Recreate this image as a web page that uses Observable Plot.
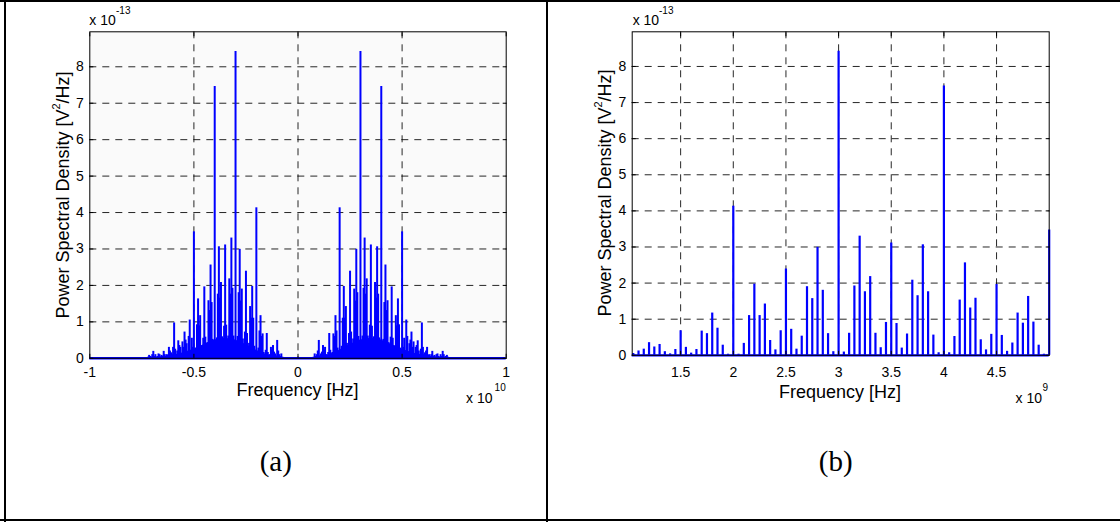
<!DOCTYPE html>
<html><head><meta charset="utf-8">
<script src="https://cdn.jsdelivr.net/npm/d3@7"></script>
<script src="https://cdn.jsdelivr.net/npm/@observablehq/plot@0.6"></script>
<style>
html,body{margin:0;padding:0;background:#fff;}
#root{position:relative;width:1120px;height:522px;overflow:hidden;font-family:"Liberation Sans",Arial,sans-serif;color:#000;}
.abs{position:absolute;white-space:nowrap;line-height:1;}
.c{transform:translate(-50%,-50%);}
.border{position:absolute;background:#000;}
.svgwrap{position:absolute;top:0;}
</style></head><body><div id="root"></div>
<script>
// Spectral line frequencies (GHz) and PSD values (x 1e-13 V^2/Hz)
const lineFreqGHz = [0.75,0.80,0.85,0.90,0.95,1.00,1.05,1.10,1.15,1.20,1.25,1.30,1.35,1.40,1.45,1.50,1.55,1.60,1.65,1.70,1.75,1.80,1.85,1.90,1.95,
  2.00,2.05,2.10,2.15,2.20,2.25,2.30,2.35,2.40,2.45,2.50,2.55,2.60,2.65,2.70,2.75,2.80,2.85,2.90,2.95,
  3.00,3.05,3.10,3.15,3.20,3.25,3.30,3.35,3.40,3.45,3.50,3.55,3.60,3.65,3.70,3.75,3.80,3.85,3.90,3.95,
  4.00,4.05,4.10,4.15,4.20,4.25,4.30,4.35,4.40,4.45,4.50,4.55,4.60,4.65,4.70,4.75,4.80,4.85,4.90,4.95,
  5.00,5.05,5.10,5.15,5.20,5.25,5.30,5.35,5.40,5.45,5.50,5.55,5.60,5.65,5.70,5.75,5.80,5.85,5.90,5.95,
  6.00,6.05,6.10,6.15,6.20,6.25,6.30,6.35,6.40,6.45,6.50,6.55,6.60,6.65,6.70,6.75,6.80,6.85,6.90,6.95,
  7.00,7.05,7.10,7.15,7.20];
const linePSD = [0.03,0.12,0.05,0.10,0.20,0.49,0.05,0.12,0.17,0.35,0.23,0.30,0.10,0.04,0.16,0.68,0.22,0.06,0.16,0.67,0.60,1.17,0.75,0.28,0.03,
  4.13,0.03,0.33,1.10,1.97,1.10,1.42,0.41,0.15,0.68,2.39,0.72,0.17,0.53,1.90,1.57,2.99,1.80,0.60,0.10,
  8.42,0.09,0.61,1.92,3.30,1.76,2.18,0.61,0.21,0.91,3.11,0.88,0.20,0.59,2.08,1.65,3.06,1.76,0.56,0.07,
  7.46,0.07,0.52,1.53,2.56,1.31,1.58,0.43,0.15,0.58,1.96,0.55,0.11,0.34,1.17,0.89,1.63,0.92,0.28,0.03,
  3.47,0.30,0.55,0.20,1.05,0.60,0.15,0.40,0.50,0.72,0.30,0.45,0.10,0.30,0.35,0.48,0.20,0.10,0.25,0.97,
  0.30,0.10,0.15,0.20,0.30,0.08,0.10,0.05,0.10,0.19,0.05,0.08,0.03,0.10,0.12,0.05,0.02,0.10,0.05,0.19,
  0.10,0.03,0.05,0.08,0.03];
// Dense low-level floor under the lines in the two-sided view (GHz, x 1e-13)
const floorFreqGHz = [0.7,1.0,1.5,2.0,2.5,3.0,3.5,4.0,4.5,5.0,5.5,6.0,6.5,7.0,7.3];
const floorPSD = [0,0.06,0.10,0.22,0.38,0.50,0.55,0.50,0.38,0.25,0.15,0.08,0.04,0.02,0];

const yTicks = [0,1,2,3,4,5,6,7,8];
const xTicksA = [-1,-0.5,0,0.5,1];
const xTicksB = [1.5,2,2.5,3,3.5,4,4.5];
const yDomain = [0, 8.96];
const xDomainA = [-1, 1];        // x 1e10 Hz
const xDomainB = [1.04, 5.0];    // x 1e9 Hz
const yLabelText = "Power Spectral Density [V<sup>2</sup>/Hz]";
const xLabelText = "Frequency [Hz]";

const blue = "#0000ff";
const root = document.getElementById("root");

const linesB = lineFreqGHz.map((f,i)=>({x:f, v:linePSD[i]})).filter(d=>d.x>=xDomainB[0] && d.x<=xDomainB[1]);
const linesA = lineFreqGHz.flatMap((f,i)=>[{x:-f/10, v:linePSD[i]},{x:f/10, v:linePSD[i]}]);
const floorA = [
  ...floorFreqGHz.map((f,i)=>({x:-f/10, v:floorPSD[i]})).reverse(),
  ...floorFreqGHz.map((f,i)=>({x:f/10, v:floorPSD[i]}))
];

const gridStyle = {stroke:"#000", strokeOpacity:0.85, strokeWidth:1, strokeDasharray:"7,6"};
const fmt = d => String(d);
const blank = () => "";

function makePlot({width, height, ml, mr, mt, mb, xDomain, xTicks, xPad, bg, marks}) {
  return Plot.plot({
    width, height, marginLeft: ml, marginRight: mr, marginTop: mt, marginBottom: mb,
    style: {background:"transparent", fontFamily:"'Liberation Sans', Arial, sans-serif", fontSize:"14px", color:"#000", overflow:"visible"},
    x: {domain: xDomain},
    y: {domain: yDomain},
    marks: [
      Plot.frame({fill: bg, stroke: null}),
      Plot.gridX(xTicks.filter(t=>t>xDomain[0] && t<xDomain[1]), gridStyle),
      Plot.gridY(yTicks.slice(1), gridStyle),
      ...marks,
      Plot.axisX(xTicks, {anchor:"bottom", tickSize:-4, tickFormat: blank, label:null}),
      Plot.axisX(xTicks, {anchor:"top", tickSize:-4, tickFormat: blank, label:null}),
      Plot.axisY(yTicks, {anchor:"left", tickSize:-4, tickFormat: blank, label:null}),
      Plot.axisY(yTicks, {anchor:"right", tickSize:-4, tickFormat: blank, label:null}),
      Plot.axisX(xTicks, {anchor:"bottom", tickSize:0, tickPadding:xPad, tickFormat: fmt, label:null, fontSize:14}),
      Plot.axisY(yTicks, {anchor:"left", tickSize:0, tickPadding:6, tickFormat: fmt, label:null, fontSize:14}),
      Plot.frame({stroke:"#000", strokeWidth:1})
    ]
  });
}

const plotA = makePlot({
  width:548, height:400, ml:89.3, mr:42.3, mt:31.3, mb:42.2,
  xDomain: xDomainA, xTicks: xTicksA, xPad: 9, bg:"#fafafa",
  marks: [
    Plot.areaY(floorA, {x:"x", y:"v", fill: blue}),
    Plot.ruleX(linesA, {x:"x", y:"v", stroke: blue, strokeWidth:2}),
    Plot.ruleY([0], {stroke: blue, strokeWidth:2.5})
  ]
});
const plotB = makePlot({
  width:572, height:400, ml:83.7, mr:71.3, mt:31.3, mb:45.2,
  xDomain: xDomainB, xTicks: xTicksB, xPad: 12, bg:"#ffffff",
  marks: [
    Plot.ruleX(linesB, {x:"x", y:"v", stroke: blue, strokeWidth:2.2}),
    Plot.ruleY([0], {stroke: blue, strokeWidth:2.2})
  ]
});

function wrap(svg, left) {
  const d = document.createElement("div");
  d.className = "svgwrap"; d.style.left = left + "px";
  d.appendChild(svg); root.appendChild(d);
}
wrap(plotA, 0);
wrap(plotB, 548);

function addHTML(html) { root.insertAdjacentHTML("beforeend", html); }

// table borders
addHTML(`<div class="border" style="left:0;top:0;width:1120px;height:2px"></div>`);
addHTML(`<div class="border" style="left:4px;top:0;width:2px;height:522px"></div>`);
addHTML(`<div class="border" style="left:0;top:519px;width:1120px;height:2px"></div>`);
addHTML(`<div class="border" style="left:546px;top:0;width:2px;height:522px"></div>`);

function panelText({expLeft, expSupLeft, botLeft, botSupLeft, botExp, xlabX, xlabY, ylabX, ylabY, tagX, tag}) {
  addHTML(`<div class="abs" style="left:${expLeft}px;top:13.2px;font-size:14px">x 10</div>`);
  addHTML(`<div class="abs" style="left:${expSupLeft}px;top:6px;font-size:10px">-13</div>`);
  addHTML(`<div class="abs" style="left:${botLeft}px;top:391px;font-size:14px">x 10</div>`);
  addHTML(`<div class="abs" style="left:${botSupLeft}px;top:383px;font-size:10px">${botExp}</div>`);
  addHTML(`<div class="abs c" style="left:${xlabX}px;top:${xlabY}px;font-size:18px">${xLabelText}</div>`);
  addHTML(`<div class="abs" style="left:${ylabX}px;top:${ylabY}px;font-size:18px;transform:translate(-50%,-50%) rotate(-90deg)">${yLabelText.replace('<sup>','<sup style="font-size:11px;line-height:1;vertical-align:9px">')}</div>`);
  addHTML(`<div class="abs c" style="left:${tagX}px;top:460.5px;font-size:29px;font-family:'Liberation Serif','Times New Roman',serif">${tag}</div>`);
}
panelText({expLeft:89.3, expSupLeft:116, botLeft:466, botSupLeft:494.6, botExp:"10", xlabX:297.5, xlabY:390, ylabX:61, ylabY:194.5, tagX:275.8, tag:"(a)"});
panelText({expLeft:632.7, expSupLeft:659, botLeft:1015.6, botSupLeft:1042.6, botExp:"9", xlabX:840, xlabY:391.7, ylabX:603.3, ylabY:193, tagX:835.7, tag:"(b)"});
</script>
</body></html>
